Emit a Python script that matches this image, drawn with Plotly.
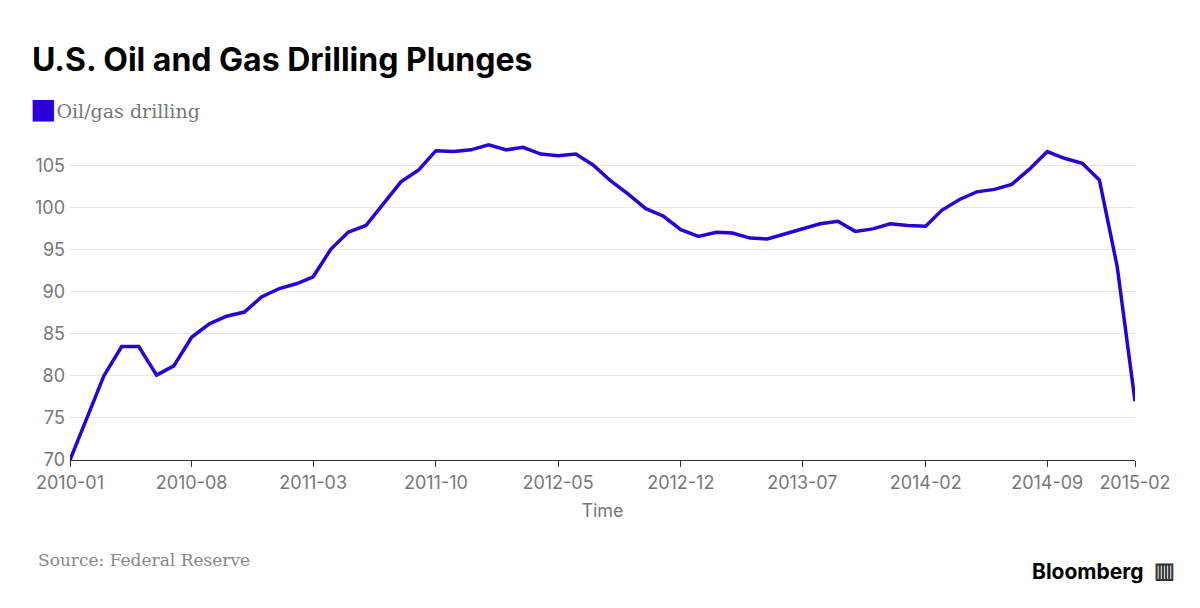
import plotly.graph_objects as go
import pandas as pd

months = pd.date_range("2010-01-01", "2015-02-01", freq="MS")
drilling = [70, 75.3, 80, 83.5, 83.5, 80.1, 81.2, 84.6, 86.2, 87.1, 87.6, 89.4,
            90.4, 91, 91.8, 95.1, 97.1, 97.9, 100.4, 103.1, 104.5, 106.8, 106.7, 106.9,
            107.5, 106.9, 107.2, 106.4, 106.2, 106.4, 105.1, 103.2, 101.6, 99.9, 99, 97.4,
            96.6, 97.1, 97, 96.4, 96.3, 96.9, 97.4, 98.1, 98.4, 97.2, 97.5, 98.1,
            97.9, 97.8, 99.7, 101, 101.9, 102.2, 102.8, 104.6, 106.7, 105.9, 105.3, 103.3,
            93, 77]
tick_dates = ["2010-01-01", "2010-08-01", "2011-03-01", "2011-10-01", "2012-05-01",
              "2012-12-01", "2013-07-01", "2014-02-01", "2014-09-01", "2015-02-01"]

# page body adds ~8px offset, so margins are shifted accordingly
L, R, T, B = 62, 73, 120, 156
W, H = 1200, 608

fig = go.Figure(go.Scatter(x=months, y=drilling, mode="lines",
                           line=dict(color="#2a00d8", width=3.5), showlegend=False))

fig.update_layout(
    width=W, height=H, plot_bgcolor="white", paper_bgcolor="white",
    margin=dict(l=L, r=R, t=T, b=B),
    font=dict(family="Inter, Liberation Sans, sans-serif", color="#777777"),
    xaxis=dict(range=["2010-01-01", "2015-02-01"], tickvals=tick_dates, tickformat="%Y-%m",
               showgrid=False, showline=True, linecolor="#333333", linewidth=1,
               ticks="outside", ticklen=6, tickcolor="#333333",
               tickfont=dict(size=18, color="#777777"),
               title=dict(text="Time", font=dict(size=18, color="#777777"), standoff=12)),
    yaxis=dict(range=[70, 109.5], tickvals=[70, 75, 80, 85, 90, 95, 100, 105],
               showgrid=True, gridcolor="#e6e6e6", zeroline=False,
               tickfont=dict(size=18, color="#777777"), ticklabelstandoff=4),
    annotations=[
        dict(text="<b>U.S. Oil and Gas Drilling Plunges</b>", x=22, y=52,
             xanchor="left", yanchor="middle",
             font=dict(size=32, color="#000000", family="Inter, sans-serif")),
        dict(text="<span style='color:#2a00d8;font-size:28px'>■</span>Oil/gas drilling",
             x=20, y=101, xanchor="left", yanchor="middle",
             font=dict(size=19, color="#777777", family="DejaVu Serif, serif")),
        dict(text="Source: Federal Reserve", x=28, y=552,
             xanchor="left", yanchor="middle",
             font=dict(size=17, color="#888888", family="DejaVu Serif, serif")),
        dict(text="<b>Bloomberg</b>", x=1138, y=563,
             xanchor="right", yanchor="middle",
             font=dict(size=21, color="#000000", family="Inter, sans-serif")),
        dict(text="<b>▥</b>", x=1156, y=562,
             xanchor="center", yanchor="middle",
             font=dict(size=22, color="#333333")),
    ],
)
for a in fig.layout.annotations:
    a.showarrow = False
    a.xref = "paper"
    a.yref = "paper"
    a.x = (a.x - L) / (W - L - R)
    a.y = ((H - a.y) - B) / (H - T - B)

fig.write_html("out.html")
